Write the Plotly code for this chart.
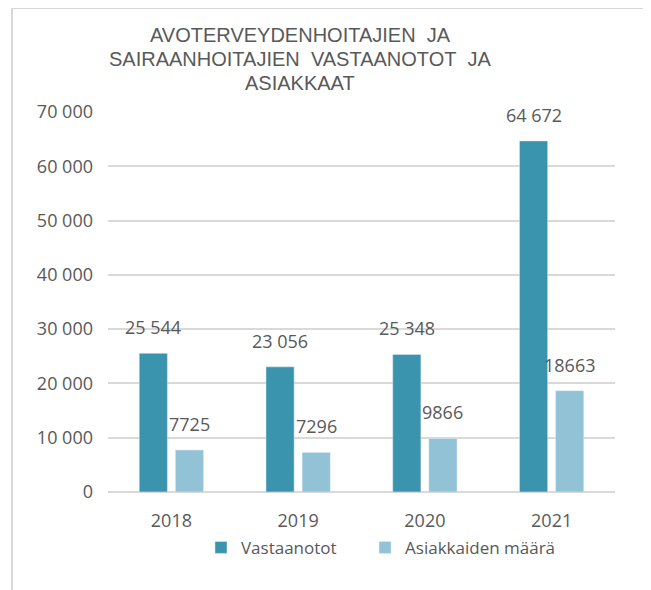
import plotly.graph_objects as go

years = ["2018", "2019", "2020", "2021"]
vastaanotot = [25544, 23056, 25348, 64672]
asiakkaat = [7725, 7296, 9866, 18663]
series_names = ["Vastaanotot", "Asiakkaiden määrä"]
title_lines = ["AVOTERVEYDENHOITAJIEN\u00a0 JA",
               "SAIRAANHOITAJIEN\u00a0 VASTAANOTOT\u00a0 JA",
               "ASIAKKAAT"]
y_ticks = [0, 10000, 20000, 30000, 40000, 50000, 60000, 70000]

DARK = "#3b94ad"
LIGHT = "#91c2d6"
GRAY = "#595959"
FONT = "Open Sans"

def fmt_space(v):
    return f"{v:,}".replace(",", " ")

fig = go.Figure()
fig.add_bar(x=years, y=vastaanotot, name=series_names[0], marker_color=DARK, legend="legend")
fig.add_bar(x=years, y=asiakkaat, name=series_names[1], marker_color=LIGHT, legend="legend2")

annotations = []
for i, v in enumerate(vastaanotot):
    annotations.append(dict(x=i, y=v, xref="x", yref="y", text=fmt_space(v),
                            showarrow=False, xshift=-18, yshift=12, yanchor="bottom",
                            font=dict(family=FONT, size=18, color=GRAY)))
for i, v in enumerate(asiakkaat):
    annotations.append(dict(x=i, y=v, xref="x", yref="y", text=str(v),
                            showarrow=False, xshift=18, yshift=12, yanchor="bottom",
                            font=dict(family=FONT, size=18, color=GRAY)))
for i, line in enumerate(title_lines):
    annotations.append(dict(x=0.3787, y=[1.2026, 1.1395, 1.0763][i], xref="paper", yref="paper",
                            text=line, showarrow=False, xanchor="center", yanchor="middle",
                            font=dict(family="Liberation Sans", size=20, color=GRAY)))

legend_common = dict(orientation="h", xanchor="left", y=-0.147, yanchor="middle",
                     font=dict(family=FONT, size=17, color=GRAY), bgcolor="rgba(0,0,0,0)")

fig.update_layout(
    width=651, height=590,
    margin=dict(l=100, r=44, t=104, b=106, autoexpand=False),
    paper_bgcolor="white", plot_bgcolor="white",
    barmode="group", bargap=0.43, bargroupgap=0.22,
    showlegend=True,
    legend=dict(x=0.1834, **legend_common),
    legend2=dict(x=0.507, **legend_common),
    annotations=annotations,
    shapes=[dict(type="rect", xref="paper", yref="paper",
                 x0=-96 / 507, x1=539 / 507, y0=-120 / 380, y1=484 / 380,
                 line=dict(color="#d9d9d9", width=2), fillcolor="rgba(0,0,0,0)", layer="below")],
)
fig.update_xaxes(type="category", categoryorder="array", categoryarray=years,
                 range=[-0.5, len(years) - 0.5], autorange=False,
                 showgrid=False, showline=False, ticks="", ticklabelstandoff=16,
                 tickfont=dict(family=FONT, size=18, color=GRAY))
fig.update_yaxes(range=[0, 70000], autorange=False, tickvals=y_ticks,
                 ticktext=[fmt_space(t) for t in y_ticks],
                 showgrid=True, gridcolor="#d9d9d9", gridwidth=2,
                 zeroline=True, zerolinecolor="#d9d9d9", zerolinewidth=2,
                 showline=False, ticks="", ticklabelstandoff=14,
                 tickfont=dict(family=FONT, size=18, color=GRAY))

fig.write_html("out.html")
